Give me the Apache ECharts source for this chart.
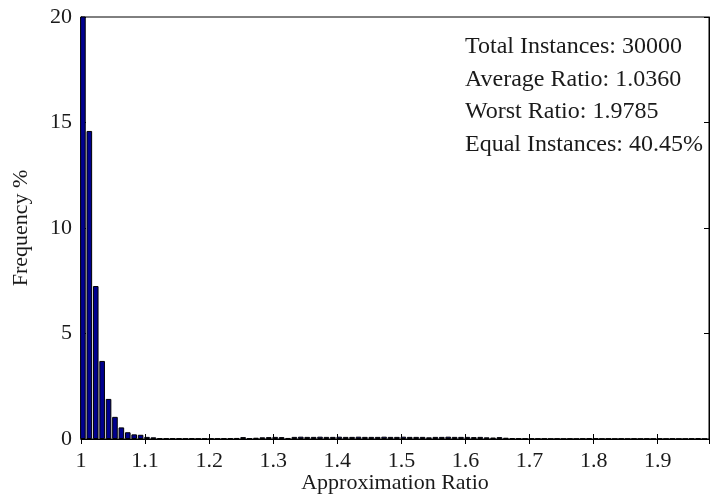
<!DOCTYPE html>
<html>
<head>
<meta charset="utf-8">
<script src="https://cdn.jsdelivr.net/npm/echarts@6/dist/echarts.min.js"></script>
<style>
  html, body { margin: 0; padding: 0; background: #fff; }
  #chart { width: 711px; height: 495px; }
</style>
</head>
<body>
<div id="chart"></div>
<script>
// Histogram of approximation ratios, 0.01-wide bins starting at 1.00
const binStart = 1.003;
const binStep = 0.01;
const frequency = [
  41.0, 14.6, 7.25, 3.7, 1.9, 1.05, 0.55, 0.32, 0.22, 0.2,
  0.1, 0.08, 0.04, 0.03, 0.03, 0.03, 0.02, 0.03, 0.02, 0.02,
  0.02, 0.02, 0.03, 0.04, 0.05, 0.09, 0.04, 0.06, 0.08, 0.09,
  0.1, 0.09, 0.05, 0.1, 0.11, 0.1, 0.1, 0.11, 0.1, 0.1,
  0.11, 0.1, 0.1, 0.11, 0.1, 0.1, 0.1, 0.11, 0.1, 0.1,
  0.11, 0.1, 0.1, 0.1, 0.08, 0.1, 0.1, 0.11, 0.1, 0.1,
  0.1, 0.09, 0.1, 0.08, 0.07, 0.09, 0.06, 0.04, 0.03, 0.02,
  0.02, 0.02, 0.02, 0.01, 0.02, 0.01, 0.02, 0.01, 0.02, 0.03,
  0.03, 0.01, 0.02, 0.01, 0.02, 0.01, 0.02, 0.01, 0.02, 0.01,
  0.02, 0.01, 0.02, 0.01, 0.01, 0.02, 0.04, 0.01
];
const xTicks = [1, 1.1, 1.2, 1.3, 1.4, 1.5, 1.6, 1.7, 1.8, 1.9];
const yTicks = [0, 5, 10, 15, 20];
const statLines = [
  'Total Instances: 30000',
  'Average Ratio: 1.0360',
  'Worst Ratio: 1.9785',
  'Equal Instances: 40.45%'
];

const barData = frequency.map((v, i) => [binStart + i * binStep, v]);

const serif = 'Liberation Serif';
const textColor = '#1a1a1a';
const chart = echarts.init(document.getElementById('chart'));

const tickStyle = { show: true, inside: true, length: 5, lineStyle: { color: '#000', width: 1 } };

chart.setOption({
  animation: false,
  grid: {
    left: 81, right: 2, top: 17, bottom: 56,
    containLabel: false, outerBoundsMode: 'none',
    show: true, borderColor: '#000', borderWidth: 1, backgroundColor: '#fff'
  },
  xAxis: [{
    type: 'value',
    min: 1, max: 1.98, interval: 0.1,
    name: 'Approximation Ratio',
    nameLocation: 'middle', nameGap: 33, nameMoveOverlap: false,
    nameTextStyle: { fontFamily: serif, fontSize: 22, color: textColor },
    axisLine: { show: true, lineStyle: { color: '#000' } },
    axisTick: tickStyle,
    splitLine: { show: false },
    axisLabel: {
      fontFamily: serif, fontSize: 22, color: textColor, margin: 11,
      showMaxLabel: false,
      formatter: v => xTicks.some(t => Math.abs(t - v) < 1e-6) ? String(+v.toFixed(1)) : ''
    }
  }, {
    type: 'value', position: 'top',
    min: 1, max: 1.98, interval: 0.1,
    axisLine: { show: true, lineStyle: { color: '#000' } },
    axisTick: tickStyle, axisLabel: { show: false }, splitLine: { show: false }
  }],
  yAxis: [{
    type: 'value',
    min: 0, max: 20, interval: 5,
    name: 'Frequency %',
    nameLocation: 'middle', nameGap: 49, nameMoveOverlap: false,
    nameTextStyle: { fontFamily: serif, fontSize: 22, color: textColor },
    axisLine: { show: true, lineStyle: { color: '#000' } },
    axisTick: tickStyle,
    splitLine: { show: false },
    axisLabel: {
      fontFamily: serif, fontSize: 22, color: textColor, margin: 9,
      formatter: v => yTicks.includes(v) ? String(v) : ''
    }
  }, {
    type: 'value', position: 'right',
    min: 0, max: 20, interval: 5,
    axisLine: { show: true, lineStyle: { color: '#000' } },
    axisTick: tickStyle, axisLabel: { show: false }, splitLine: { show: false }
  }],
  series: [{
    type: 'bar',
    data: barData,
    barWidth: 5.6,
    clip: true,
    itemStyle: { color: '#00008f', borderColor: '#000', borderWidth: 1 }
  }],
  graphic: statLines.map((t, i) => ({
    type: 'text',
    left: 465,
    top: 35 + i * 32.5,
    style: { text: t, fontFamily: serif, fontSize: 24, fill: textColor }
  }))
});
</script>
</body>
</html>
